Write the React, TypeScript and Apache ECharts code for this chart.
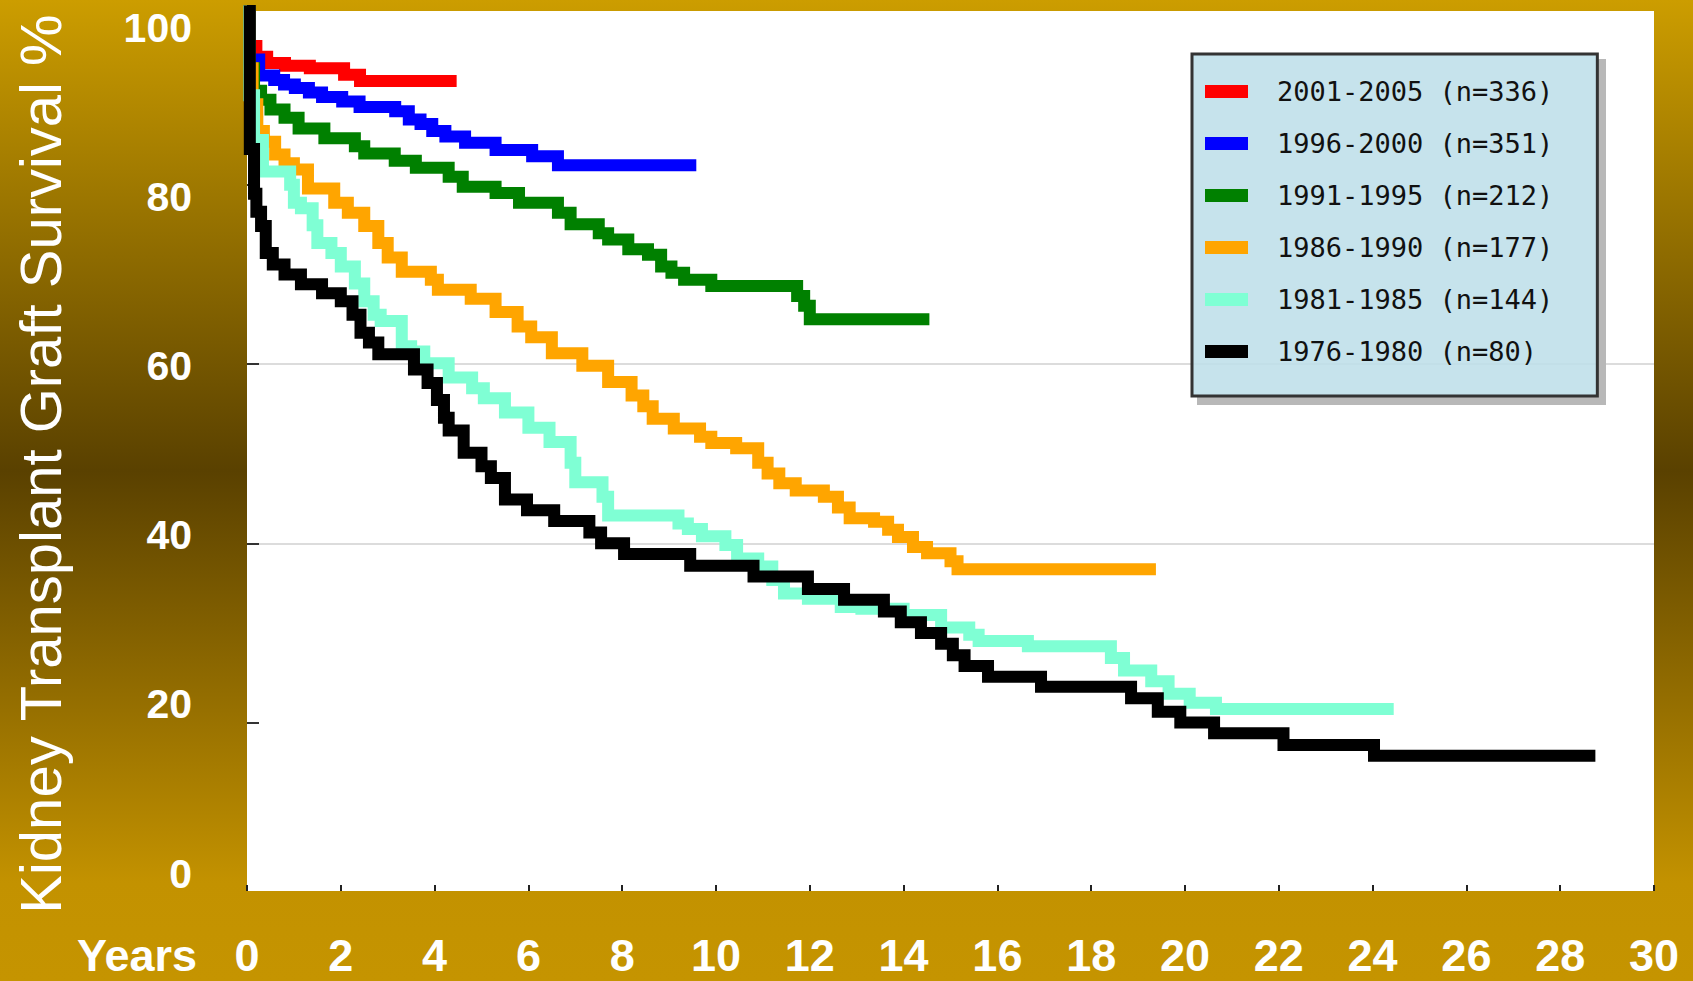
import React, { useEffect, useRef } from 'react';
import * as echarts from 'echarts';

// ---- data ----
const legendNames = [
  '2001-2005 (n=336)',
  '1996-2000 (n=351)',
  '1991-1995 (n=212)',
  '1986-1990 (n=177)',
  '1981-1985 (n=144)',
  '1976-1980 (n=80)',
];
const seriesColors = ['#FF0000', '#0000FF', '#008000', '#FFA500', '#7FFFD4', '#000000'];

// [years, survival %]
const cohort2001 = [[0,100],[0.05,95.5],[0.2,94.3],[0.43,93.6],[0.81,93.3],[1.34,93.0],[2.07,92.3],[2.41,91.6],[4.47,91.6]];
const cohort1996 = [[0,100],[0.05,94],[0.26,92.2],[0.58,91.7],[0.79,91.2],[1.02,90.8],[1.32,90.3],[1.6,89.8],[2.03,89.3],[2.4,88.7],[3.16,88.2],[3.45,87.3],[3.7,86.8],[3.95,86.0],[4.23,85.4],[4.65,84.7],[5.3,83.9],[6.08,83.2],[6.63,82.2],[9.58,82.2]];
const cohort1991 = [[0,100],[0.05,93],[0.15,90.5],[0.3,89.5],[0.5,88.4],[0.8,87.5],[1.1,86.3],[1.65,85.2],[2.3,84.3],[2.5,83.5],[3.15,82.7],[3.6,81.9],[4.3,80.9],[4.6,79.8],[5.3,79.1],[5.8,78.0],[6.63,76.9],[6.9,75.6],[7.5,74.6],[7.7,73.9],[8.13,72.8],[8.55,72.2],[8.83,70.9],[9.05,70.2],[9.32,69.4],[9.9,68.7],[11.73,67.6],[11.88,66.5],[12.0,65.0],[14.55,65.0]];
const cohort1986 = [[0,100],[0.05,93],[0.12,89],[0.22,86],[0.36,84.8],[0.6,83.4],[0.8,82.4],[1.0,81.7],[1.3,79.6],[1.86,78.0],[2.15,76.9],[2.5,75.4],[2.8,73.5],[3.0,71.9],[3.3,70.3],[3.92,69.4],[4.07,68.3],[4.77,67.3],[5.3,65.8],[5.77,64.2],[6.06,63.0],[6.5,61.2],[7.15,59.8],[7.7,58.0],[8.2,56.5],[8.45,55.3],[8.65,53.9],[9.1,52.8],[9.66,51.9],[9.9,51.2],[10.43,50.6],[10.9,49.0],[11.1,47.8],[11.35,46.7],[11.7,45.9],[12.3,45.2],[12.6,44.0],[12.85,42.8],[13.37,42.4],[13.67,41.5],[13.88,40.7],[14.2,39.6],[14.5,38.9],[15.0,38.0],[15.15,37.1],[19.38,37.1]];
const cohort1981 = [[0,100],[0.05,90],[0.15,85],[0.34,81.5],[0.92,80],[1.0,78],[1.15,77.4],[1.4,75.5],[1.5,73.5],[1.8,72.4],[2.0,70.9],[2.3,69],[2.5,67],[2.7,65.5],[2.85,64.8],[3.3,62],[3.5,61.4],[3.78,60.1],[4.3,58.5],[4.8,57.3],[5.05,56.2],[5.5,54.6],[6.0,52.9],[6.45,51.3],[6.9,49],[7.0,46.8],[7.58,45.2],[7.7,43.1],[9.2,42.2],[9.4,41.6],[9.7,40.8],[10.2,39.8],[10.45,38.3],[10.9,37.4],[11.2,35.9],[11.45,34.4],[11.96,33.8],[12.66,32.9],[13.1,32.7],[14.0,32.0],[14.8,30.6],[15.4,29.8],[15.6,29.1],[16.65,28.5],[18.42,27.2],[18.7,25.8],[19.28,24.6],[19.65,23.2],[20.1,22.2],[20.66,21.5],[24.45,21.5]];
const cohort1976 = [[0,100],[0.06,84],[0.15,79],[0.2,77],[0.3,75.4],[0.4,72.4],[0.55,71.1],[0.8,70.0],[1.15,68.9],[1.6,67.9],[2.0,67.0],[2.25,65.5],[2.42,63.5],[2.6,62.4],[2.8,61.1],[3.56,59.4],[3.85,57.9],[4.05,56.0],[4.2,54.0],[4.3,52.6],[4.62,50.1],[5.0,48.6],[5.2,47.3],[5.5,44.9],[5.97,43.7],[6.55,42.5],[7.3,41.2],[7.55,40.0],[8.04,38.8],[9.45,37.5],[10.8,36.3],[11.96,34.9],[12.73,33.7],[13.58,32.4],[13.94,31.2],[14.37,30.0],[14.8,28.8],[15.05,27.5],[15.3,26.3],[15.8,25.1],[16.93,24.0],[18.85,22.7],[19.42,21.2],[19.9,20.0],[20.62,18.8],[22.1,17.5],[24.03,16.3],[28.75,16.3]];

const cohorts = [cohort2001, cohort1996, cohort1991, cohort1986, cohort1981, cohort1976];
const gridValues = [20, 40, 60, 80];
const xMin = 0, xMax = 30, xStep = 2;
const yLabelMin = 0, yLabelMax = 100, yLabelStep = 20;
const yTitle = 'Kidney Transplant Graft Survival %';
const xTitle = 'Years';

export default function App() {
  const ref = useRef<HTMLDivElement>(null);
  useEffect(() => {
    const chart = echarts.init(ref.current!, null, { renderer: 'svg' });
    const font = 'Liberation Sans';
    const option: any = {
      animation: false,
      backgroundColor: {
        type: 'linear', x: 0, y: 0, x2: 0, y2: 1,
        colorStops: [
          { offset: 0, color: '#CC9D00' },
          { offset: 0.48, color: '#5A4100' },
          { offset: 0.9, color: '#C39200' },
          { offset: 1, color: '#C59400' },
        ],
      },
      grid: [
        { left: 247, top: 11, width: 1407, height: 880, show: true, backgroundColor: '#FFFFFF', borderWidth: 0 },
        { left: 192, top: 27.5, width: 1, height: 846, show: false },
      ],
      xAxis: [
        {
          type: 'value', gridIndex: 0, min: xMin, max: xMax, interval: xStep,
          axisLine: { show: false },
          axisTick: { show: true, inside: true, length: 6, lineStyle: { color: '#222', width: 2 } },
          splitLine: { show: false },
          axisLabel: { color: '#FFFFFF', fontFamily: font, fontWeight: 'bold', fontSize: 45, margin: 64, verticalAlign: 'middle', showMinLabel: true, showMaxLabel: true },
        },
        { type: 'value', gridIndex: 1, show: false, min: 0, max: 1 },
      ],
      yAxis: [
        {
          type: 'value', gridIndex: 0, min: 1.2, max: 99.4,
          axisLine: { show: false },
          axisTick: { show: true, inside: true, length: 12, customValues: gridValues, lineStyle: { color: '#333', width: 2 } },
          axisLabel: { show: false },
          splitLine: { show: true, showMinLine: false, showMaxLine: false, lineStyle: { color: '#DCDCDC', width: 2 } },
        },
        {
          type: 'value', gridIndex: 1, min: yLabelMin, max: yLabelMax, interval: yLabelStep,
          axisLine: { show: false }, axisTick: { show: false }, splitLine: { show: false },
          axisLabel: { color: '#FFFFFF', fontFamily: font, fontWeight: 'bold', fontSize: 41, margin: 0, showMinLabel: true, showMaxLabel: true },
        },
      ],
      legend: {
        orient: 'vertical', left: 1192, top: 54,
        padding: [24, 44, 31, 13],
        itemWidth: 43, itemHeight: 13, itemGap: 25,
        icon: 'rect',
        selectedMode: false,
        backgroundColor: 'rgba(190,223,233,0.88)',
        borderColor: '#333333', borderWidth: 3,
        itemStyle: { borderWidth: 0 },
        textStyle: { fontFamily: 'DejaVu Sans Mono', fontSize: 27, color: '#111111', padding: [0, 0, 0, 24] },
        data: legendNames,
      },
      graphic: [
        { type: 'rect', shape: { x: 1598, y: 59, width: 8, height: 346 }, style: { fill: '#B8B8B8' }, z: 1 },
        { type: 'rect', shape: { x: 1197, y: 397, width: 409, height: 8 }, style: { fill: '#B8B8B8' }, z: 1 },
        {
          type: 'text', x: 40, y: 464, rotation: Math.PI / 2,
          style: { text: yTitle, fill: '#FFFFFF', fontFamily: font, fontSize: 58, align: 'center', verticalAlign: 'middle' },
        },
        {
          type: 'text', x: 197, y: 955,
          style: { text: xTitle, fill: '#FFFFFF', fontFamily: font, fontWeight: 'bold', fontSize: 45, align: 'right', verticalAlign: 'middle' },
        },
      ],
      series: legendNames.map((name, i) => ({
        type: 'line', name, data: cohorts[i], step: 'end',
        xAxisIndex: 0, yAxisIndex: 0,
        showSymbol: false, symbol: 'none', silent: true, clip: true,
        itemStyle: { color: seriesColors[i] },
        lineStyle: { color: seriesColors[i], width: 12, join: 'miter', cap: 'butt' },
      })),
    };
    chart.setOption(option);
    return () => chart.dispose();
  }, []);
  return <div ref={ref} style={{ position: 'absolute', left: 0, top: 0, width: 1693, height: 981 }} />;
}
